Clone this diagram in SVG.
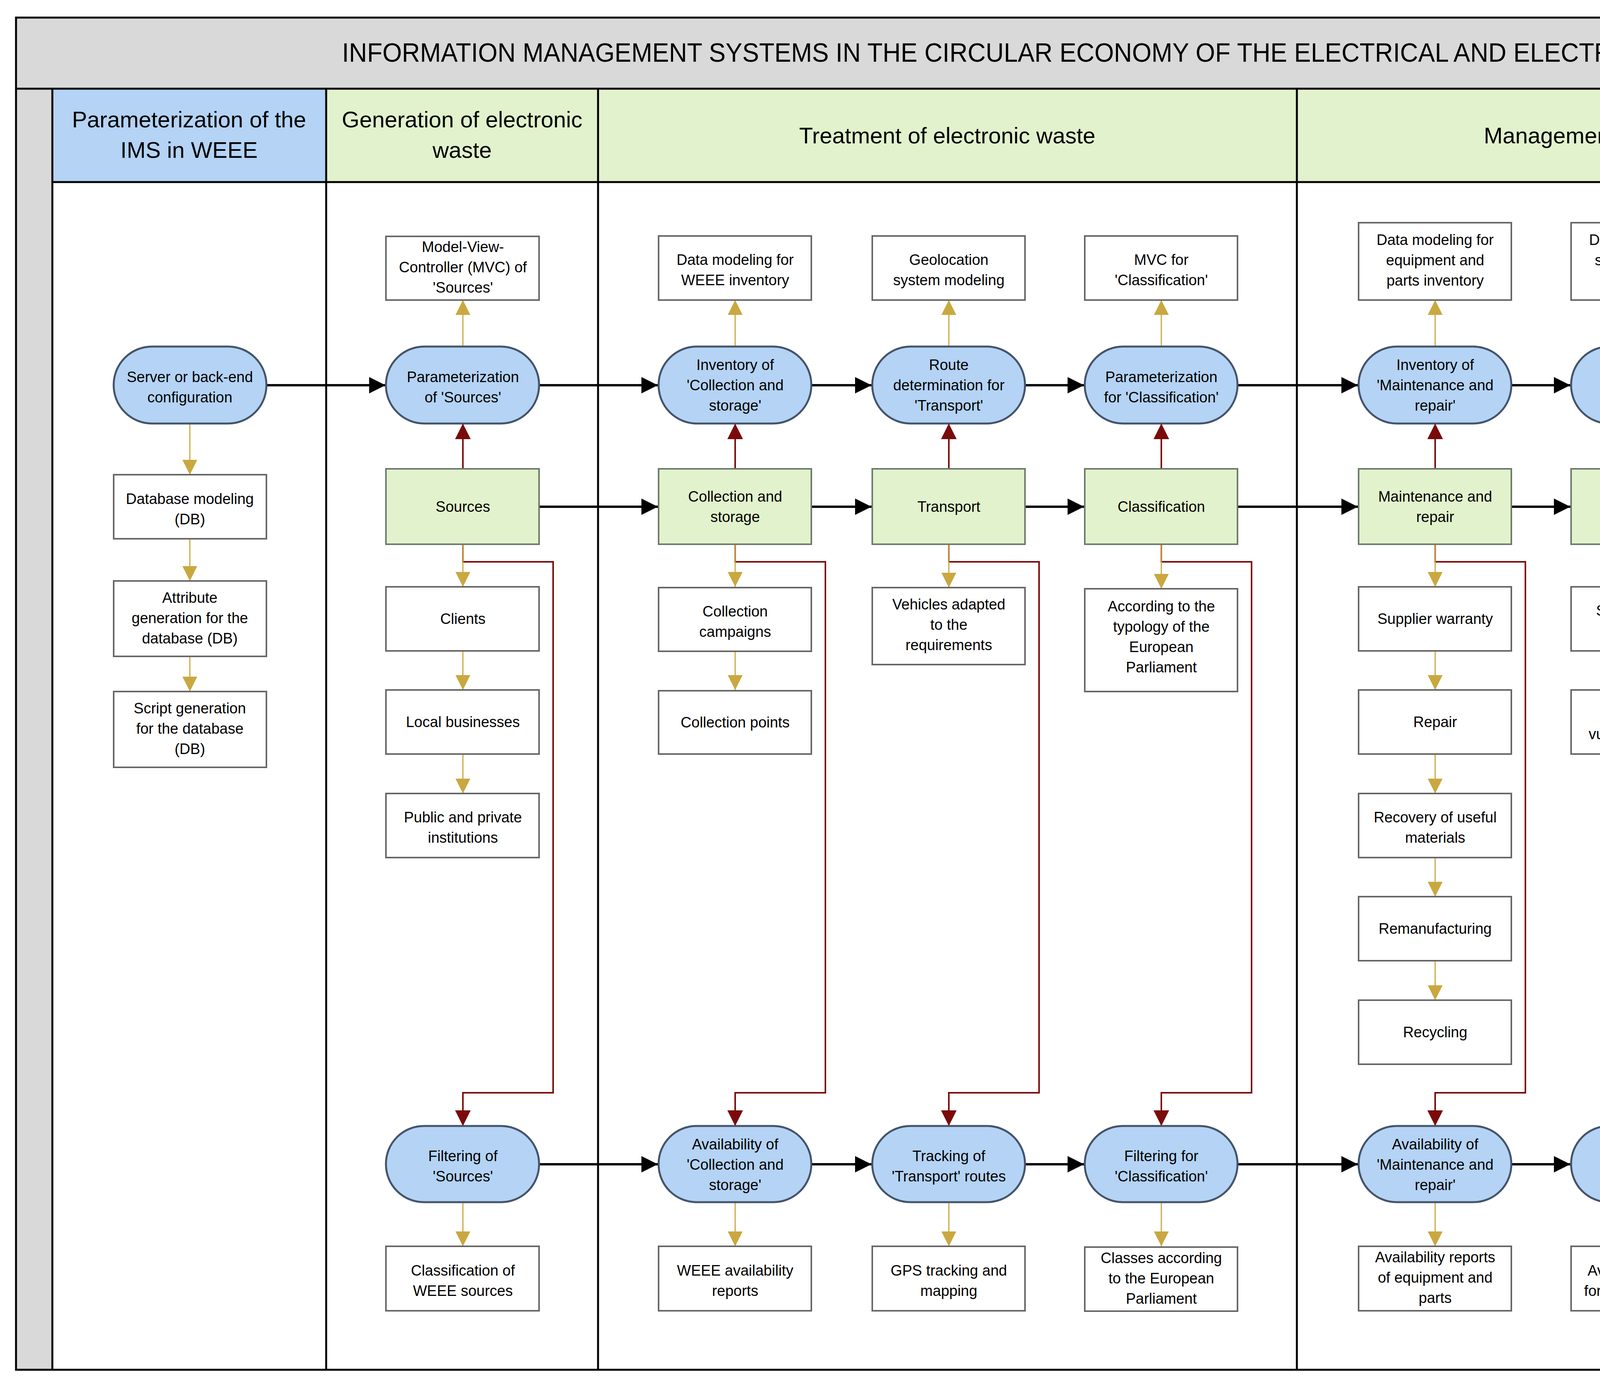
<svg xmlns="http://www.w3.org/2000/svg" width="5842" height="3545" viewBox="0 0 5842 3545">
<style>
text{font-family:"Liberation Sans",Arial,sans-serif;fill:#000;text-anchor:middle}
.t{font-size:38px}
.h{font-size:58px}
.st{fill:#b4d3f5;stroke:#44546a;stroke-width:5}
.gr{fill:#e2f2cc;stroke:#6d7a6d;stroke-width:4}
.wb{fill:#fff;stroke:#666;stroke-width:4}
.bk{fill:none;stroke:#000;stroke-width:6;marker-end:url(#ab)}
.rd{fill:none;stroke:#7b0a0a;stroke-width:4;marker-end:url(#ar)}
.gd{fill:none;stroke:#c9a840;stroke-width:3;marker-end:url(#ag)}
</style>
<defs>
<marker id="ab" viewBox="0 0 10 10" refX="10" refY="5" markerUnits="userSpaceOnUse" markerWidth="42" markerHeight="42" orient="auto"><path d="M0,0L10,5L0,10z" fill="#000"/></marker>
<marker id="ar" viewBox="0 0 10 10" refX="10" refY="5" markerUnits="userSpaceOnUse" markerWidth="40" markerHeight="40" orient="auto"><path d="M0,0L10,5L0,10z" fill="#7b0a0a"/></marker>
<marker id="ag" viewBox="0 0 10 10" refX="10" refY="5" markerUnits="userSpaceOnUse" markerWidth="38" markerHeight="38" orient="auto"><path d="M0,0L10,5L0,10z" fill="#c9a840"/></marker>
</defs>
<rect width="5842" height="3545" fill="#fff"/>
<g id="frame">
<rect x="41" y="45" width="5764" height="182" fill="#d9d9d9"/>
<rect x="41" y="227" width="93" height="3279" fill="#d9d9d9"/>
<rect x="134" y="227" width="701" height="239" fill="#b4d3f5"/>
<rect x="835" y="227" width="696" height="239" fill="#e2f2cc"/>
<rect x="1531" y="227" width="1789" height="239" fill="#e2f2cc"/>
<rect x="3320" y="227" width="1792" height="239" fill="#e2f2cc"/>
<rect x="5112" y="227" width="693" height="239" fill="#b4d3f5"/>
<rect x="41" y="45" width="5764" height="3461" fill="none" stroke="#000" stroke-width="5"/>
<path d="M41,227H5805M134,466H5805M134,227V3506M835,227V3506M1531,227V3506M3320,227V3506M5112,227V3506" stroke="#000" stroke-width="5" fill="none"/>
<text x="2923" y="158" font-size="68" textLength="4095" lengthAdjust="spacingAndGlyphs">INFORMATION MANAGEMENT SYSTEMS IN THE CIRCULAR ECONOMY OF THE ELECTRICAL AND ELECTRONIC EQUIPMENT SECTOR</text>
<text class="h" x="484" y="326">Parameterization of the</text>
<text class="h" x="484" y="404">IMS in WEEE</text>
<text class="h" x="1183" y="326">Generation of electronic</text>
<text class="h" x="1183" y="404">waste</text>
<text class="h" x="2425" y="367">Treatment of electronic waste</text>
<text class="h" x="4216" y="367">Management of electronic waste</text>
<text class="h" x="5458" y="326">Availability of</text>
<text class="h" x="5458" y="404">information</text>
</g>
<g id="connectors">
<path class="bk" d="M682,986H987"/><path class="bk" d="M1380,986H1684"/><path class="bk" d="M2077,986H2231"/><path class="bk" d="M2624,986H2775"/><path class="bk" d="M3168,986H3476"/><path class="bk" d="M3869,986H4020"/><path class="bk" d="M4413,986H4564"/>
<path class="bk" d="M1380,1297H1684"/><path class="bk" d="M2077,1297H2231"/><path class="bk" d="M2624,1297H2775"/><path class="bk" d="M3168,1297H3476"/><path class="bk" d="M3869,1297H4020"/><path class="bk" d="M4413,1297H4564"/>
<path class="bk" d="M1380,2980H1684"/><path class="bk" d="M2077,2980H2231"/><path class="bk" d="M2624,2980H2775"/><path class="bk" d="M3168,2980H3476"/><path class="bk" d="M3869,2980H4020"/><path class="bk" d="M4413,2980H4564"/><path class="bk" d="M4957,2980H5264"/>
<path class="rd" d="M1185,1200V1084"/><path class="rd" d="M1882,1200V1084"/><path class="rd" d="M2429,1200V1084"/><path class="rd" d="M2973,1200V1084"/><path class="rd" d="M3674,1200V1084"/><path class="rd" d="M4218,1200V1084"/><path class="rd" d="M4762,1200V1084"/>
<path class="rd" d="M1185,1393V1438H1416V2797H1185V2882"/>
<path class="rd" d="M1882,1393V1438H2113V2797H1882V2882"/>
<path class="rd" d="M2429,1393V1438H2660V2797H2429V2882"/>
<path class="rd" d="M2973,1393V1438H3204V2797H2973V2882"/>
<path class="rd" d="M3674,1393V1438H3905V2797H3674V2882"/>
<path class="rd" d="M4218,1393V1438H4449V2797H4218V2882"/>
<path class="rd" d="M4762,1393V1438H4993V2797H4762V2882"/>
<path class="gd" d="M1185,887V768"/><path class="gd" d="M1882,887V768"/><path class="gd" d="M2429,887V768"/><path class="gd" d="M2973,887V768"/><path class="gd" d="M3674,887V768"/><path class="gd" d="M4218,887V768"/><path class="gd" d="M4762,887V768"/>
<path class="gd" d="M486,1084V1215"/><path class="gd" d="M486,1379V1487"/><path class="gd" d="M486,1680V1770"/>
<path class="gd" d="M1185,1393V1502"/><path class="gd" d="M1185,1666V1766"/><path class="gd" d="M1185,1930V2031"/>
<path class="gd" d="M1882,1393V1502"/><path class="gd" d="M1882,1666V1766"/>
<path class="gd" d="M2429,1393V1504"/><path class="gd" d="M2973,1393V1507"/>
<path class="gd" d="M3674,1393V1502"/><path class="gd" d="M3674,1666V1766"/><path class="gd" d="M3674,1930V2031"/><path class="gd" d="M3674,2195V2295"/><path class="gd" d="M3674,2459V2560"/>
<path class="gd" d="M4218,1393V1502"/><path class="gd" d="M4218,1666V1766"/>
<path class="gd" d="M4762,1393V1502"/>
<path class="gd" d="M1185,3077V3190"/><path class="gd" d="M1882,3077V3190"/><path class="gd" d="M2429,3077V3190"/><path class="gd" d="M2973,3077V3190"/><path class="gd" d="M3674,3077V3190"/><path class="gd" d="M4218,3077V3190"/><path class="gd" d="M4762,3077V3190"/>
<path class="gd" d="M5462,2882V2724"/><path class="gd" d="M5462,2560V2459"/><path class="gd" d="M5462,2295V2195"/>
</g>
<g id="n_server"><rect class="st" x="291" y="887" width="391" height="197" rx="98"/><text class="t" x="486" y="978">Server or back-end</text><text class="t" x="486" y="1030">configuration</text></g>
<g id="n_db"><rect class="wb" x="291" y="1215" width="391" height="164"/><text class="t" x="486" y="1290">Database modeling</text><text class="t" x="486" y="1342">(DB)</text></g>
<g id="n_attr"><rect class="wb" x="291" y="1487" width="391" height="193"/><text class="t" x="486" y="1543">Attribute</text><text class="t" x="486" y="1595">generation for the</text><text class="t" x="486" y="1647">database (DB)</text></g>
<g id="n_script"><rect class="wb" x="291" y="1770" width="391" height="194"/><text class="t" x="486" y="1826">Script generation</text><text class="t" x="486" y="1878">for the database</text><text class="t" x="486" y="1930">(DB)</text></g>
<g id="n_mvcs"><rect class="wb" x="988" y="605" width="392" height="163"/><text class="t" x="1185" y="645">Model-View-</text><text class="t" x="1185" y="697">Controller (MVC) of</text><text class="t" x="1185" y="749">'Sources'</text></g>
<g id="n_params"><rect class="st" x="988" y="887" width="392" height="197" rx="98"/><text class="t" x="1185" y="978">Parameterization</text><text class="t" x="1185" y="1030">of 'Sources'</text></g>
<g id="n_sources"><rect class="gr" x="988" y="1200" width="392" height="193"/><text class="t" x="1185" y="1310">Sources</text></g>
<g id="n_clients"><rect class="wb" x="988" y="1502" width="392" height="164"/><text class="t" x="1185" y="1597">Clients</text></g>
<g id="n_local"><rect class="wb" x="988" y="1766" width="392" height="164"/><text class="t" x="1185" y="1861">Local businesses</text></g>
<g id="n_public"><rect class="wb" x="988" y="2031" width="392" height="164"/><text class="t" x="1185" y="2105">Public and private</text><text class="t" x="1185" y="2157">institutions</text></g>
<g id="n_filts"><rect class="st" x="988" y="2882" width="392" height="195" rx="97"/><text class="t" x="1185" y="2972">Filtering of</text><text class="t" x="1185" y="3024">'Sources'</text></g>
<g id="n_classw"><rect class="wb" x="988" y="3190" width="392" height="165"/><text class="t" x="1185" y="3265">Classification of</text><text class="t" x="1185" y="3317">WEEE sources</text></g>
<g id="n_dmw"><rect class="wb" x="1686" y="604" width="391" height="164"/><text class="t" x="1882" y="678">Data modeling for</text><text class="t" x="1882" y="730">WEEE inventory</text></g>
<g id="n_invc"><rect class="st" x="1686" y="887" width="391" height="197" rx="98"/><text class="t" x="1882" y="947">Inventory of</text><text class="t" x="1882" y="999">'Collection and</text><text class="t" x="1882" y="1051">storage'</text></g>
<g id="n_coll"><rect class="gr" x="1686" y="1200" width="391" height="193"/><text class="t" x="1882" y="1284">Collection and</text><text class="t" x="1882" y="1336">storage</text></g>
<g id="n_camp"><rect class="wb" x="1686" y="1504" width="391" height="163"/><text class="t" x="1882" y="1578">Collection</text><text class="t" x="1882" y="1630">campaigns</text></g>
<g id="n_cpts"><rect class="wb" x="1686" y="1768" width="391" height="162"/><text class="t" x="1882" y="1862">Collection points</text></g>
<g id="n_avc"><rect class="st" x="1686" y="2882" width="391" height="195" rx="97"/><text class="t" x="1882" y="2942">Availability of</text><text class="t" x="1882" y="2994">'Collection and</text><text class="t" x="1882" y="3046">storage'</text></g>
<g id="n_wrep"><rect class="wb" x="1686" y="3190" width="391" height="165"/><text class="t" x="1882" y="3265">WEEE availability</text><text class="t" x="1882" y="3317">reports</text></g>
<g id="n_geo"><rect class="wb" x="2233" y="604" width="391" height="164"/><text class="t" x="2429" y="678">Geolocation</text><text class="t" x="2429" y="730">system modeling</text></g>
<g id="n_route"><rect class="st" x="2233" y="887" width="391" height="197" rx="98"/><text class="t" x="2429" y="947">Route</text><text class="t" x="2429" y="999">determination for</text><text class="t" x="2429" y="1051">'Transport'</text></g>
<g id="n_trans"><rect class="gr" x="2233" y="1200" width="391" height="193"/><text class="t" x="2429" y="1310">Transport</text></g>
<g id="n_veh"><rect class="wb" x="2233" y="1504" width="391" height="197"/><text class="t" x="2429" y="1560">Vehicles adapted</text><text class="t" x="2429" y="1612">to the</text><text class="t" x="2429" y="1664">requirements</text></g>
<g id="n_track"><rect class="st" x="2233" y="2882" width="391" height="195" rx="97"/><text class="t" x="2429" y="2972">Tracking of</text><text class="t" x="2429" y="3024">'Transport' routes</text></g>
<g id="n_gps"><rect class="wb" x="2233" y="3190" width="391" height="165"/><text class="t" x="2429" y="3265">GPS tracking and</text><text class="t" x="2429" y="3317">mapping</text></g>
<g id="n_mvcc"><rect class="wb" x="2777" y="604" width="391" height="164"/><text class="t" x="2973" y="678">MVC for</text><text class="t" x="2973" y="730">'Classification'</text></g>
<g id="n_paramc"><rect class="st" x="2777" y="887" width="391" height="197" rx="98"/><text class="t" x="2973" y="978">Parameterization</text><text class="t" x="2973" y="1030">for 'Classification'</text></g>
<g id="n_class"><rect class="gr" x="2777" y="1200" width="391" height="193"/><text class="t" x="2973" y="1310">Classification</text></g>
<g id="n_acc"><rect class="wb" x="2777" y="1507" width="391" height="263"/><text class="t" x="2973" y="1565">According to the</text><text class="t" x="2973" y="1617">typology of the</text><text class="t" x="2973" y="1669">European</text><text class="t" x="2973" y="1721">Parliament</text></g>
<g id="n_filtc"><rect class="st" x="2777" y="2882" width="391" height="195" rx="97"/><text class="t" x="2973" y="2972">Filtering for</text><text class="t" x="2973" y="3024">'Classification'</text></g>
<g id="n_classes"><rect class="wb" x="2777" y="3192" width="391" height="164"/><text class="t" x="2973" y="3233">Classes according</text><text class="t" x="2973" y="3285">to the European</text><text class="t" x="2973" y="3337">Parliament</text></g>
<g id="n_dmep"><rect class="wb" x="3478" y="570" width="391" height="198"/><text class="t" x="3674" y="627">Data modeling for</text><text class="t" x="3674" y="679">equipment and</text><text class="t" x="3674" y="731">parts inventory</text></g>
<g id="n_invm"><rect class="st" x="3478" y="887" width="391" height="197" rx="98"/><text class="t" x="3674" y="947">Inventory of</text><text class="t" x="3674" y="999">'Maintenance and</text><text class="t" x="3674" y="1051">repair'</text></g>
<g id="n_maint"><rect class="gr" x="3478" y="1200" width="391" height="193"/><text class="t" x="3674" y="1284">Maintenance and</text><text class="t" x="3674" y="1336">repair</text></g>
<g id="n_supp"><rect class="wb" x="3478" y="1502" width="391" height="164"/><text class="t" x="3674" y="1597">Supplier warranty</text></g>
<g id="n_repair"><rect class="wb" x="3478" y="1766" width="391" height="164"/><text class="t" x="3674" y="1861">Repair</text></g>
<g id="n_recov"><rect class="wb" x="3478" y="2031" width="391" height="164"/><text class="t" x="3674" y="2105">Recovery of useful</text><text class="t" x="3674" y="2157">materials</text></g>
<g id="n_reman"><rect class="wb" x="3478" y="2295" width="391" height="164"/><text class="t" x="3674" y="2390">Remanufacturing</text></g>
<g id="n_recyc"><rect class="wb" x="3478" y="2560" width="391" height="164"/><text class="t" x="3674" y="2655">Recycling</text></g>
<g id="n_avm"><rect class="st" x="3478" y="2882" width="391" height="195" rx="97"/><text class="t" x="3674" y="2942">Availability of</text><text class="t" x="3674" y="2994">'Maintenance and</text><text class="t" x="3674" y="3046">repair'</text></g>
<g id="n_avrep"><rect class="wb" x="3478" y="3190" width="391" height="165"/><text class="t" x="3674" y="3231">Availability reports</text><text class="t" x="3674" y="3283">of equipment and</text><text class="t" x="3674" y="3335">parts</text></g>
<g id="n_dmsd"><rect class="wb" x="4022" y="570" width="391" height="198"/><text class="t" x="4218" y="627">Data modeling for</text><text class="t" x="4218" y="679">sale or donation</text><text class="t" x="4218" y="731">inventory</text></g>
<g id="n_invr"><rect class="st" x="4022" y="887" width="391" height="197" rx="98"/><text class="t" x="4218" y="978">Inventory of</text><text class="t" x="4218" y="1030">'Reuse'</text></g>
<g id="n_reuse"><rect class="gr" x="4022" y="1200" width="391" height="193"/><text class="t" x="4218" y="1310">Reuse</text></g>
<g id="n_sale"><rect class="wb" x="4022" y="1502" width="391" height="164"/><text class="t" x="4218" y="1576">Sale of second-</text><text class="t" x="4218" y="1628">hand devices</text></g>
<g id="n_don"><rect class="wb" x="4022" y="1766" width="391" height="164"/><text class="t" x="4218" y="1840">Donation to</text><text class="t" x="4218" y="1892">vulnerable groups</text></g>
<g id="n_avr"><rect class="st" x="4022" y="2882" width="391" height="195" rx="97"/><text class="t" x="4218" y="2972">Availability of</text><text class="t" x="4218" y="3024">'Reuse'</text></g>
<g id="n_avsd"><rect class="wb" x="4022" y="3190" width="391" height="165"/><text class="t" x="4218" y="3265">Availability reports</text><text class="t" x="4218" y="3317">for sale or donation</text></g>
<g id="n_mvcsp"><rect class="wb" x="4566" y="604" width="391" height="164"/><text class="t" x="4762" y="678">MVC for service</text><text class="t" x="4762" y="730">providers</text></g>
<g id="n_paramf"><rect class="st" x="4566" y="887" width="391" height="197" rx="98"/><text class="t" x="4762" y="978">Parameterization</text><text class="t" x="4762" y="1030">of 'Final Disposal'</text></g>
<g id="n_final"><rect class="gr" x="4566" y="1200" width="391" height="193"/><text class="t" x="4762" y="1310">Final Disposal</text></g>
<g id="n_ext"><rect class="wb" x="4566" y="1502" width="391" height="164"/><text class="t" x="4762" y="1576">External service</text><text class="t" x="4762" y="1628">providers</text></g>
<g id="n_transf"><rect class="st" x="4566" y="2882" width="391" height="195" rx="97"/><text class="t" x="4762" y="2972">Transfer for 'Final</text><text class="t" x="4762" y="3024">Disposal'</text></g>
<g id="n_spa"><rect class="wb" x="4566" y="3190" width="391" height="165"/><text class="t" x="4762" y="3265">Service provider</text><text class="t" x="4762" y="3317">assignment</text></g>
<g id="n_impl"><rect class="wb" x="5266" y="2031" width="392" height="164"/><text class="t" x="5462" y="2105">Implementation on</text><text class="t" x="5462" y="2157">a web platform</text></g>
<g id="n_guiv"><rect class="wb" x="5266" y="2295" width="392" height="164"/><text class="t" x="5462" y="2369">GUI validation</text><text class="t" x="5462" y="2421">testing</text></g>
<g id="n_guid"><rect class="wb" x="5266" y="2560" width="392" height="164"/><text class="t" x="5462" y="2608">Graphical User</text><text class="t" x="5462" y="2660">Interface (GUI)</text><text class="t" x="5462" y="2712">design</text></g>
<g id="n_ui"><rect class="st" x="5266" y="2882" width="392" height="195" rx="97"/><text class="t" x="5462" y="2972">User interface or</text><text class="t" x="5462" y="3024">front-end</text></g>
</svg>
